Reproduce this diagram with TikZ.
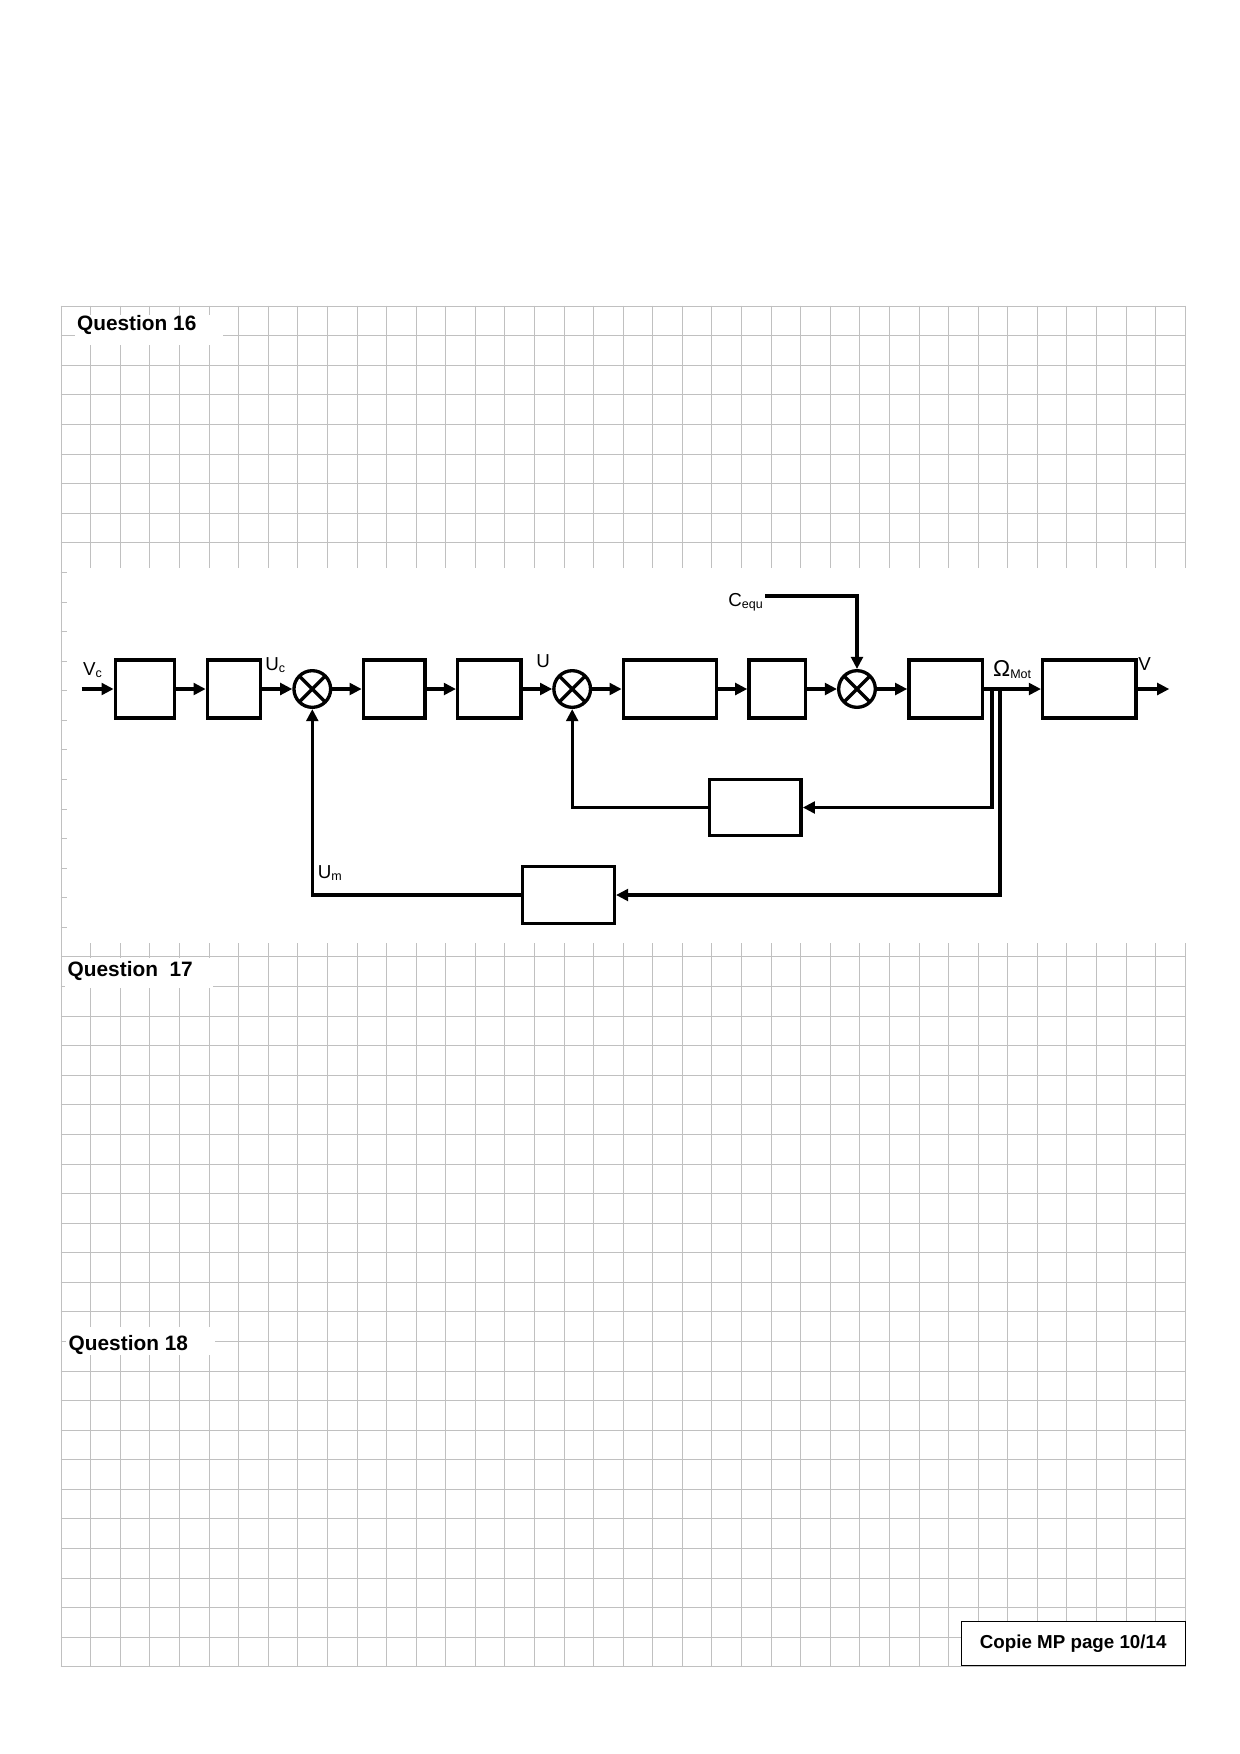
\documentclass[tikz,border=0pt]{standalone}
\usepackage{fontspec}
\setmainfont{Liberation Sans}
\usetikzlibrary{arrows.meta}
\definecolor{gridgray}{RGB}{192,192,192}

\begin{document}
\begin{tikzpicture}[x=0.48pt,y=-0.48pt,
  gridline/.style={gridgray,line width=0.55pt},
  block/.style={draw,line width=1.6pt,minimum height=27.8pt,inner sep=0pt},
  sumnode/.style={draw,circle,line width=1.6pt,minimum size=17.6pt,inner sep=0pt,
    path picture={\draw[line width=1.6pt] (path picture bounding box.north west) -- (path picture bounding box.south east)
      (path picture bounding box.north east) -- (path picture bounding box.south west);}},
  sig/.style={line width=1.6pt,-{Triangle[length=5.8pt,width=5.6pt]}},
  lbl/.style={font=\fontsize{9}{11}\selectfont,inner sep=0pt},
  qtext/.style={font=\fontsize{10}{12}\selectfont\bfseries,inner sep=0pt}]
\useasboundingbox (0,0) rectangle (1240,1754);

\foreach \i in {0,...,38} \draw[gridline] ({round(60.7+29.58*\i)+0.5},305.5) -- ({round(60.7+29.58*\i)+0.5},1666.5);
\foreach \j in {0,...,46} \draw[gridline] (60.5,{round(305.7+29.58*\j)+0.5}) -- (1185.5,{round(305.7+29.58*\j)+0.5});
\fill[white] (66.5,568) rectangle (1200,943);
\fill[white] (75,315) rectangle (223,345);
\fill[white] (65,958) rectangle (213,988);
\fill[white] (66,1327) rectangle (215,1355);

\node[qtext,anchor=base west] (q16) at (76.7,330.7) {Question 16};
\node[qtext,anchor=base west] (q17) at (67.3,976.7) {Question\ \ 17};
\node[qtext,anchor=base west] (q18) at (68.3,1350) {Question 18};
\node[draw,fill=white,line width=0.6pt,minimum width=107.5pt,minimum height=21.2pt,
  font=\fontsize{9}{11}\selectfont\bfseries] (copie) at (1073.2,1643.4) {Copie MP page 10/14};

\node[block,minimum width=28.5pt] (b1) at (145,689) {};
\node[block,minimum width=25.6pt] (b2) at (234,689) {};
\node[sumnode] (s1) at (312.3,689) {};
\node[block,minimum width=29.6pt] (b3) at (394.2,689) {};
\node[block,minimum width=30.4pt] (b4) at (489.3,689) {};
\node[sumnode] (s2) at (572.2,689) {};
\node[block,minimum width=44.8pt] (b5) at (670,689) {};
\node[block,minimum width=27.2pt] (b6) at (777.3,689) {};
\node[sumnode] (s3) at (857,689) {};
\node[block,minimum width=35.4pt] (b7) at (945.8,689) {};
\node[block,minimum width=44.8pt] (b8) at (1089.3,689) {};
\node[block,minimum width=44pt,minimum height=26.9pt] (b9) at (755.3,807.5) {};
\node[block,minimum width=44pt,minimum height=27.5pt] (b10) at (568.5,895) {};

\coordinate (in) at (81.7,689);
\coordinate (out) at (1169.3,689);
\coordinate (ceq) at (765,596);
\coordinate (br1) at (992,689);
\coordinate (br2) at (1000,689);

\node[lbl,anchor=base west] (vc) at (82.7,675) {V\textsubscript{c}};
\node[lbl,anchor=base west] (uc) at (265,670) {U\textsubscript{c}};
\node[lbl,anchor=base west] (u) at (536,667) {U};
\node[lbl,anchor=base west] (cequ) at (728,606.7) {C\textsubscript{equ}};
\node[lbl,anchor=base west] (om) at (992.7,676.7) {{\fontsize{11}{12}\selectfont Ω}\textsubscript{Mot}};
\node[lbl,anchor=base west] (v) at (1138,670) {V};
\node[lbl,anchor=base west] (um) at (317.5,878) {U\textsubscript{m}};

\draw[sig] (in) -- (b1);
\draw[sig] (b1) -- (b2);
\draw[sig] (b2) -- (s1);
\draw[sig] (s1) -- (b3);
\draw[sig] (b3) -- (b4);
\draw[sig] (b4) -- (s2);
\draw[sig] (s2) -- (b5);
\draw[sig] (b5) -- (b6);
\draw[sig] (b6) -- (s3);
\draw[sig] (s3) -- (b7);
\draw[sig] (b7) -- (b8);
\draw[sig] (b8) -- (out);
\draw[sig] (ceq) -| (s3);
\draw[sig] (br1) |- (b9);
\draw[sig] (b9) -| (s2);
\draw[sig] (br2) |- (b10);
\draw[sig] (b10) -| (s1);
\end{tikzpicture}
\end{document}
